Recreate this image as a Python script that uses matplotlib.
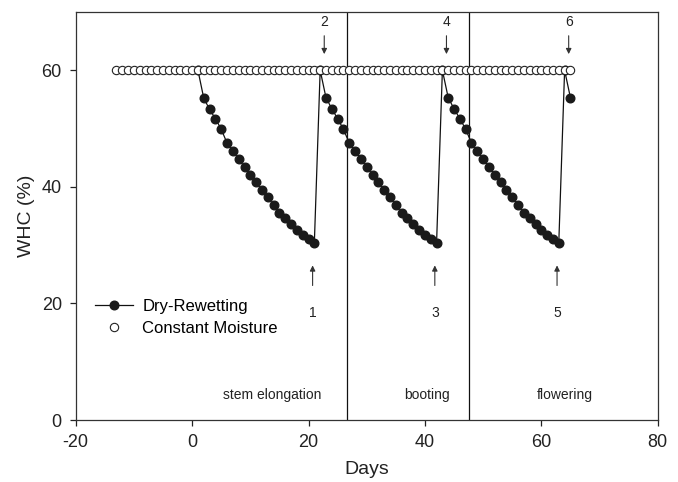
import matplotlib
matplotlib.use("Agg")
import matplotlib.pyplot as plt

plt.rcParams['font.family'] = ['Liberation Sans', 'DejaVu Sans']
plt.rcParams['axes.unicode_minus'] = False

# constant moisture: open circles at 60 % every day
const_days = list(range(-13, 66))
const_whc = [60] * len(const_days)

# dry-rewetting cycles
cycle1 = [55.2, 53.3, 51.7, 49.9, 47.5, 46.2, 44.8, 43.4, 42.1, 40.8,
          39.5, 38.2, 36.9, 35.5, 34.7, 33.6, 32.6, 31.8, 31.1, 30.4]
cycle2 = [55.3, 53.4, 51.7, 49.9, 47.5, 46.2, 44.8, 43.4, 42.1, 40.8,
          39.5, 38.2, 36.9, 35.5, 34.7, 33.6, 32.6, 31.8, 31.1, 30.4]
cycle3 = [55.3, 53.4, 51.7, 49.9, 47.5, 46.2, 44.8, 43.4, 42.1, 40.8,
          39.5, 38.2, 36.9, 35.5, 34.7, 33.6, 32.6, 31.8, 31.1, 30.4]

dry_days = list(range(1, 66))
dry_whc = [60] + cycle1 + [60] + cycle2 + [60] + cycle3 + [60, 55.3]

stage_bounds = [26.6, 47.6]
stage_names = ["stem elongation", "booting", "flowering"]
stage_x = [13.8, 40.3, 64.0]

rewet_x = [22.7, 43.7, 64.7]
rewet_labels = ["2", "4", "6"]
dry_x = [20.7, 41.7, 62.7]
dry_labels = ["1", "3", "5"]

fig = plt.figure(figsize=(6.78, 4.82), dpi=100)
ax = fig.add_axes([0.1117, 0.1286, 0.8584, 0.8465])

ax.plot(dry_days, dry_whc, color="#111111", lw=0.9, marker="o", ms=6.2,
        mfc="#1a1a1a", mec="#1a1a1a", zorder=2, label="Dry-Rewetting")
ax.plot(const_days, const_whc, ls="none", marker="o", ms=6.0,
        mfc="white", mec="#222222", mew=0.8, zorder=3, label="Constant Moisture")

for b in stage_bounds:
    ax.axvline(b, color="#111111", lw=0.9, zorder=1)

for name, x in zip(stage_names, stage_x):
    ax.text(x, 4.3, name, ha="center", va="center", fontsize=10, color="#222222")

arrow = dict(arrowstyle="-|>", color="#333333", lw=0.8, mutation_scale=8)
for x, lab in zip(rewet_x, rewet_labels):
    ax.annotate("", xy=(x, 62.3), xytext=(x, 66.4), arrowprops=arrow)
    ax.text(x, 68.3, lab, ha="center", va="center", fontsize=10, color="#222222")
for x, lab in zip(dry_x, dry_labels):
    ax.annotate("", xy=(x, 27.0), xytext=(x, 22.6), arrowprops=arrow)
    ax.text(x, 18.4, lab, ha="center", va="center", fontsize=10, color="#222222")

ax.set_xlim(-20, 80)
ax.set_ylim(0, 70)
ax.set_xticks([-20, 0, 20, 40, 60, 80])
ax.set_yticks([0, 20, 40, 60])
ax.tick_params(direction="out", length=4, width=0.9, labelsize=13,
               colors="#222222", pad=6)
for s in ax.spines.values():
    s.set_color("#333333")
    s.set_linewidth(0.9)

ax.set_xlabel("Days", fontsize=14, color="#222222", labelpad=7)
ax.set_ylabel("WHC (%)", fontsize=14, color="#222222", labelpad=5)

ax.legend(loc="upper left", bbox_to_anchor=(0.033, 0.296), frameon=False,
          fontsize=12, handlelength=2.3, handletextpad=0.55, labelspacing=0.38,
          borderaxespad=0, borderpad=0)

fig.savefig("out.png", dpi=100)
